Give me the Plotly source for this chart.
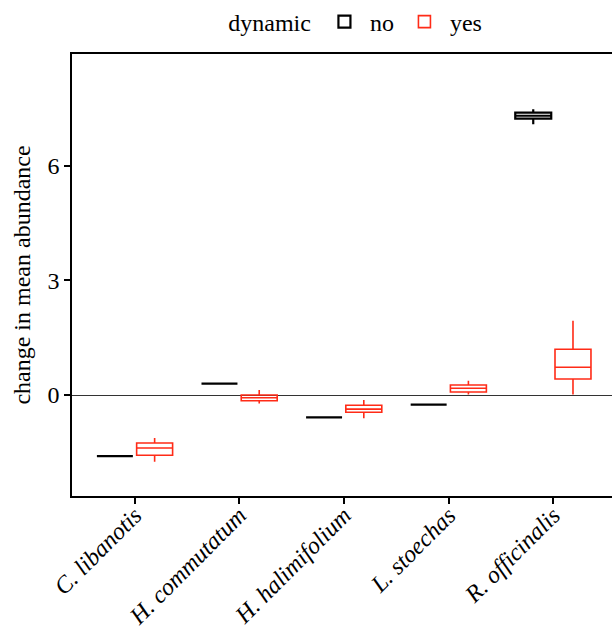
import plotly.graph_objects as go

species = ["C. libanotis", "H. commutatum", "H. halimifolium", "L. stoechas", "R. officinalis"]
tick_labels = ["<i>" + s + "</i>" for s in species]

# dynamic = no
no_lower = [-1.60, 0.30, -0.585, -0.25, 7.09]
no_q1 = [-1.60, 0.30, -0.585, -0.25, 7.235]
no_median = [-1.60, 0.30, -0.585, -0.25, 7.31]
no_q3 = [-1.60, 0.30, -0.585, -0.25, 7.39]
no_upper = [-1.60, 0.30, -0.585, -0.25, 7.48]

# dynamic = yes
yes_lower = [-1.746, -0.22, -0.61, 0.01, 0.01]
yes_q1 = [-1.579, -0.15, -0.45, 0.08, 0.42]
yes_median = [-1.387, -0.07, -0.37, 0.175, 0.725]
yes_q3 = [-1.257, 0.0, -0.27, 0.26, 1.196]
yes_upper = [-1.126, 0.13, -0.13, 0.37, 1.945]

y_ticks = [0, 3, 6]

FONT = "Liberation Serif"
RED = "#FF2B17"
FS = 24

fig = go.Figure()
fig.add_trace(go.Box(
    name="no", x=species, lowerfence=no_lower, q1=no_q1, median=no_median,
    q3=no_q3, upperfence=no_upper, line=dict(color="black", width=2.2),
    fillcolor="rgba(255,255,255,0)", whiskerwidth=0, boxpoints=False,
))
fig.add_trace(go.Box(
    name="yes", x=species, lowerfence=yes_lower, q1=yes_q1, median=yes_median,
    q3=yes_q3, upperfence=yes_upper, line=dict(color=RED, width=1.6),
    fillcolor="rgba(255,255,255,0)", whiskerwidth=0, boxpoints=False,
))

fig.update_layout(
    width=612, height=630,
    margin=dict(l=72, r=0, t=54, b=134),
    paper_bgcolor="white", plot_bgcolor="white",
    boxmode="group", boxgap=0.24, boxgroupgap=0.095,
    font=dict(family=FONT, size=FS, color="black"),
    legend=dict(
        title=dict(text="dynamic", font=dict(size=FS)),
        orientation="h", xref="container", yref="container",
        x=0.583, xanchor="center", y=0.965, yanchor="middle",
        font=dict(size=FS), itemwidth=41,
    ),
)
fig.update_xaxes(
    categoryorder="array", categoryarray=species,
    tickmode="array", tickvals=species, ticktext=tick_labels,
    range=[-0.6, 4.563], tickangle=-45, automargin=False,
    ticklabelstandoff=-12,
    showline=True, linecolor="black", linewidth=1.6, mirror=True,
    ticks="outside", ticklen=6, tickwidth=1.6, tickcolor="black",
    showgrid=False, zeroline=False,
    tickfont=dict(family=FONT, size=FS, color="black"),
)
fig.update_yaxes(
    range=[-2.644, 8.927], tickvals=y_ticks, automargin=False,
    showline=True, linecolor="black", linewidth=1.6,
    ticks="outside", ticklen=6, tickwidth=1.6, tickcolor="black",
    showgrid=False, zeroline=True, zerolinecolor="#333333", zerolinewidth=1.2,
    title=dict(text="change in mean abundance", font=dict(family=FONT, size=FS), standoff=10),
    tickfont=dict(family=FONT, size=FS, color="black"),
)

fig.write_html("out.html", config={"displayModeBar": False},
               post_script="document.body.style.margin='0';")
